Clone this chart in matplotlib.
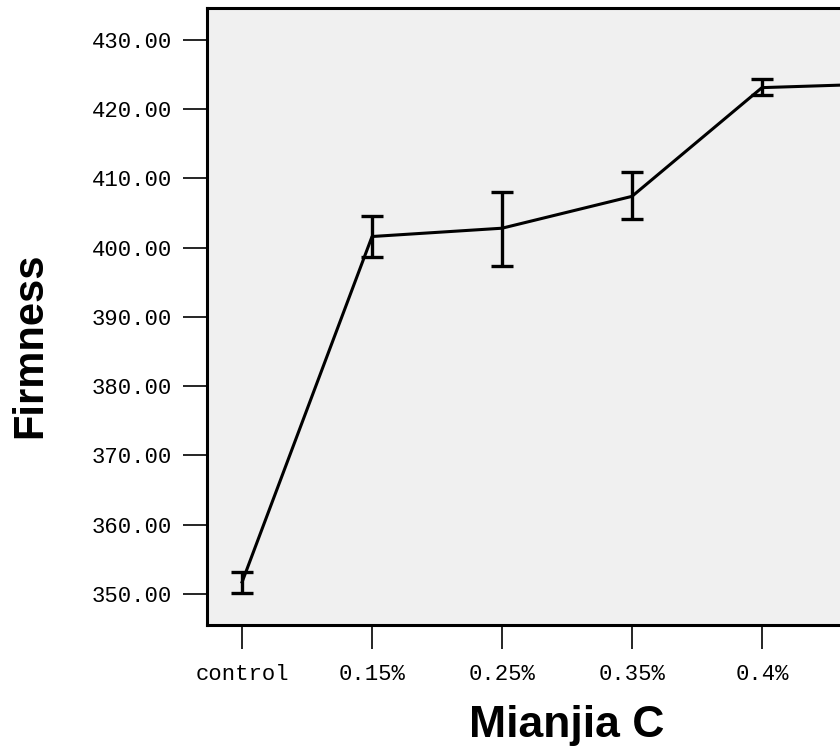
import matplotlib
matplotlib.use("Agg")
import matplotlib.pyplot as plt
import numpy as np

categories = ["control", "0.15%", "0.25%", "0.35%", "0.4%", ""]
means = [351.7, 401.6, 402.8, 407.4, 423.1, 423.7]
err_low = [350.1, 398.7, 397.4, 404.2, 422.1, 422.7]
err_high = [353.2, 404.5, 408.0, 410.9, 424.3, 424.7]
yticks = [350, 360, 370, 380, 390, 400, 410, 420, 430]

W, H = 840, 752
fig = plt.figure(figsize=(W / 100, H / 100), dpi=100)
ax = fig.add_axes([207 / W, 1 - 625 / H, 720 / W, 617 / H])
ax.set_facecolor("#F0F0F0")

x = np.arange(len(means))
m = np.array(means)
yerr = [m - np.array(err_low), np.array(err_high) - m]
ax.errorbar(x, m, yerr=yerr, color="black", lw=2.2, elinewidth=2.4,
            capsize=8, capthick=2.4, zorder=3)

ax.set_xlim(-0.27, len(means) - 1 + 0.27)
ax.set_ylim(345.5, 434.6)
ax.set_xticks(x)
ax.set_xticklabels(categories, family="Liberation Mono", fontsize=16)
ax.set_yticks(yticks)
ax.set_yticklabels([f"{v:.2f}" for v in yticks], family="Liberation Mono", fontsize=16)
ax.tick_params(axis="both", direction="out", length=17, width=1.2, color="black")
ax.tick_params(axis="y", pad=8)
ax.tick_params(axis="x", pad=11)
for s in ax.spines.values():
    s.set_linewidth(2.2)
    s.set_color("black")

fig.text(30 / W, 1 - 345 / H, "Firmness", rotation=90, ha="center", va="center",
         family="Liberation Sans", fontweight="bold", fontsize=30)
fig.text(567 / W, 1 - 725 / H, "Mianjia C", ha="center", va="center",
         family="Liberation Sans", fontweight="bold", fontsize=32)

fig.savefig("out.png", dpi=100, facecolor="white")
